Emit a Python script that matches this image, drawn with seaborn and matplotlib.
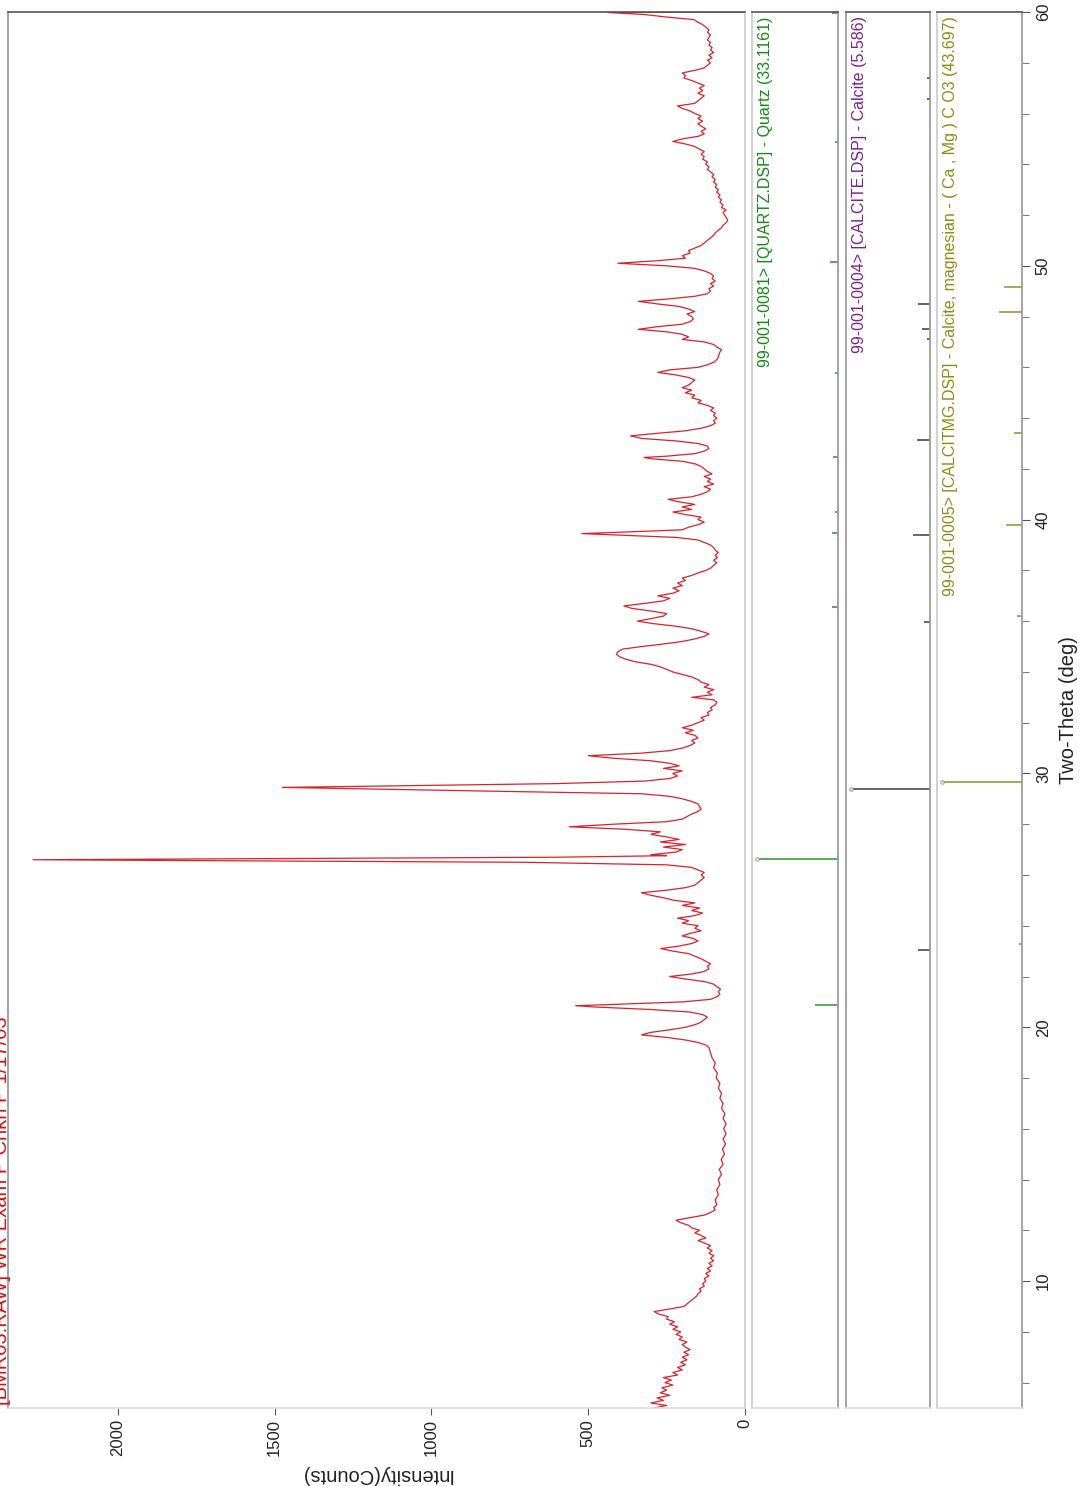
import matplotlib
matplotlib.use("Agg")
import matplotlib.pyplot as plt
from matplotlib.ticker import MultipleLocator
import numpy as np
import pandas as pd
import seaborn as sns

# ---- measured scan (two-theta in degrees, intensity in counts) ----
two_theta = [
    5.0, 5.1, 5.2, 5.3, 5.4, 5.5, 5.6, 5.7, 5.8, 5.9, 6.0, 6.1, 6.2, 6.3, 6.4, 6.5, 6.6, 6.7, 6.8, 6.9,
    7.0, 7.1, 7.2, 7.3, 7.4, 7.5, 7.6, 7.7, 7.8, 7.9, 8.0, 8.1, 8.2, 8.3, 8.4, 8.5, 8.6, 8.7, 8.8, 8.9,
    9.0, 9.1, 9.2, 9.3, 9.4, 9.5, 9.6, 9.7, 9.8, 9.9, 10.0, 10.1, 10.2, 10.3, 10.4, 10.5, 10.6, 10.7, 10.8, 10.9,
    11.0, 11.1, 11.2, 11.3, 11.4, 11.5, 11.6, 11.7, 11.8, 11.9, 12.0, 12.1, 12.2, 12.3, 12.4, 12.5, 12.6, 12.7, 12.8, 12.9,
    13.0, 13.2, 13.4, 13.6, 13.8, 14.0, 14.2, 14.4, 14.6, 14.8, 15.0, 15.2, 15.4, 15.6, 15.8, 16.0, 16.2, 16.4, 16.6, 16.8,
    17.0, 17.2, 17.4, 17.6, 17.8, 18.0, 18.2, 18.4, 18.6, 18.8, 19.0, 19.2, 19.3, 19.4, 19.5, 19.6, 19.7, 19.8, 19.9, 20.0,
    20.1, 20.2, 20.3, 20.4, 20.5, 20.6, 20.7, 20.8, 20.85, 20.9, 21.0, 21.1, 21.2, 21.3, 21.4, 21.5, 21.6, 21.7, 21.8, 21.9,
    22.0, 22.1, 22.2, 22.3, 22.4, 22.5, 22.6, 22.7, 22.8, 22.9, 23.0, 23.1, 23.2, 23.3, 23.4, 23.5, 23.6, 23.7, 23.8, 23.9,
    24.0, 24.1, 24.2, 24.3, 24.4, 24.5, 24.6, 24.7, 24.8, 24.9, 25.0, 25.1, 25.2, 25.3, 25.4, 25.5, 25.6, 25.7, 25.8, 25.9,
    26.0, 26.1, 26.2, 26.3, 26.4, 26.5, 26.6, 26.66, 26.7, 26.76, 26.8, 26.9, 27.0, 27.1, 27.2, 27.3, 27.4, 27.5, 27.6, 27.7,
    27.8, 27.9, 28.0, 28.1, 28.2, 28.3, 28.4, 28.5, 28.6, 28.7, 28.8, 28.9, 29.0, 29.1, 29.2, 29.3, 29.45, 29.55, 29.6, 29.7,
    29.8, 29.9, 30.0, 30.1, 30.2, 30.3, 30.4, 30.5, 30.6, 30.7, 30.8, 30.9, 31.0, 31.1, 31.2, 31.3, 31.4, 31.5, 31.6, 31.7,
    31.8, 31.9, 32.0, 32.1, 32.2, 32.3, 32.4, 32.5, 32.6, 32.7, 32.8, 32.9, 33.0, 33.1, 33.2, 33.3, 33.4, 33.5, 33.6, 33.7,
    33.8, 33.9, 34.0, 34.1, 34.2, 34.3, 34.4, 34.5, 34.6, 34.7, 34.8, 34.9, 35.0, 35.1, 35.2, 35.3, 35.4, 35.5, 35.6, 35.7,
    35.8, 35.9, 36.0, 36.1, 36.2, 36.3, 36.4, 36.5, 36.6, 36.7, 36.8, 36.9, 37.0, 37.1, 37.2, 37.3, 37.4, 37.5, 37.6, 37.7,
    37.8, 37.9, 38.0, 38.1, 38.2, 38.3, 38.4, 38.5, 38.6, 38.7, 38.8, 38.9, 39.0, 39.1, 39.2, 39.3, 39.45, 39.55, 39.6, 39.7,
    39.8, 39.9, 40.0, 40.1, 40.2, 40.3, 40.4, 40.5, 40.6, 40.7, 40.8, 40.9, 41.0, 41.1, 41.2, 41.3, 41.4, 41.5, 41.6, 41.7,
    41.8, 41.9, 42.0, 42.1, 42.2, 42.3, 42.4, 42.45, 42.5, 42.6, 42.7, 42.8, 42.9, 43.0, 43.1, 43.2, 43.3, 43.4, 43.5, 43.6,
    43.7, 43.8, 43.9, 44.0, 44.1, 44.2, 44.3, 44.4, 44.5, 44.6, 44.7, 44.8, 44.9, 45.0, 45.1, 45.2, 45.3, 45.4, 45.5, 45.6,
    45.7, 45.8, 45.9, 46.0, 46.1, 46.2, 46.3, 46.4, 46.5, 46.6, 46.7, 46.8, 46.9, 47.0, 47.1, 47.2, 47.3, 47.4, 47.5, 47.6,
    47.7, 47.8, 47.9, 48.0, 48.1, 48.2, 48.3, 48.4, 48.5, 48.6, 48.7, 48.8, 48.9, 49.0, 49.1, 49.2, 49.3, 49.4, 49.5, 49.6,
    49.7, 49.8, 49.9, 50.0, 50.1, 50.2, 50.3, 50.4, 50.5, 50.6, 50.7, 50.8, 50.9, 51.0, 51.1, 51.2, 51.3, 51.4, 51.5, 51.6,
    51.7, 51.8, 51.9, 52.0, 52.1, 52.2, 52.3, 52.4, 52.5, 52.6, 52.7, 52.8, 52.9, 53.0, 53.1, 53.2, 53.3, 53.4, 53.5, 53.6,
    53.7, 53.8, 53.9, 54.0, 54.1, 54.2, 54.3, 54.4, 54.5, 54.6, 54.7, 54.8, 54.9, 55.0, 55.1, 55.2, 55.3, 55.4, 55.5, 55.6,
    55.7, 55.8, 55.9, 56.0, 56.1, 56.2, 56.3, 56.4, 56.5, 56.6, 56.7, 56.8, 56.9, 57.0, 57.1, 57.2, 57.3, 57.4, 57.5, 57.6,
    57.7, 57.8, 57.9, 58.0, 58.1, 58.2, 58.3, 58.4, 58.5, 58.6, 58.7, 58.8, 58.9, 59.0, 59.1, 59.2, 59.3, 59.4, 59.5, 59.6,
    59.7, 59.8, 59.9, 59.98, 60.0,
]
counts = [
    290, 250, 300, 260, 280, 240, 270, 250, 265, 230, 255, 235, 260, 215, 230, 200, 215, 190, 205, 185,
    200, 180, 195, 175, 190, 200, 185, 210, 200, 220, 205, 230, 215, 240, 225, 250, 245, 275, 290, 240,
    195, 185, 175, 165, 155, 150, 140, 145, 130, 135, 125, 130, 115, 125, 110, 120, 105, 115, 100, 110,
    100, 115, 105, 120, 110, 130, 150, 125, 140, 160, 145, 170, 180, 205, 220, 175, 130, 110, 95, 100,
    90, 95, 85, 90, 80, 85, 75, 82, 70, 76, 65, 72, 62, 70, 60, 68, 60, 70, 64, 75,
    70, 80, 75, 85, 80, 92, 88, 100, 95, 105, 110, 115, 125, 150, 190, 250, 330, 300, 240, 190,
    160, 140, 130, 120, 135, 175, 300, 480, 540, 420, 200, 110, 90, 80, 85, 78, 90, 100, 130, 190,
    240, 170, 130, 115, 120, 110, 125, 140, 160, 180, 230, 268, 210, 170, 150, 165, 200, 175, 140, 160,
    150, 200, 180, 215, 160, 135, 170, 145, 200, 160, 225, 260, 300, 330, 250, 190, 160, 150, 140, 130,
    140, 130, 150, 170, 250, 700, 2270, 1260, 600, 250, 300, 220, 200, 260, 190, 270, 210, 250, 300, 270,
    380, 560, 420, 250, 200, 185, 170, 150, 140, 145, 150, 170, 200, 240, 330, 800, 1475, 900, 600, 320,
    240, 215, 230, 200, 260, 210, 240, 300, 420, 500, 330, 240, 200, 175, 160, 170, 150, 160, 190, 165,
    200, 170, 150, 130, 140, 115, 120, 105, 110, 95, 90, 100, 170, 105, 120, 100, 130, 115, 140, 150,
    170, 200, 230, 250, 270, 300, 350, 380, 400, 410, 405, 390, 330, 260, 200, 160, 130, 115, 140, 170,
    220, 290, 343, 300, 260, 250, 300, 360, 386, 320, 260, 240, 278, 230, 210, 230, 200, 215, 190, 200,
    170, 150, 125, 108, 100, 90, 100, 88, 95, 85, 95, 100, 110, 130, 150, 220, 520, 300, 200, 180,
    150, 130, 150, 140, 190, 230, 170, 200, 160, 210, 245, 170, 140, 120, 110, 130, 100, 120, 110, 130,
    105, 120, 130, 140, 160, 200, 300, 322, 250, 160, 130, 115, 120, 150, 220, 330, 365, 280, 190, 140,
    110, 95, 100, 90, 100, 95, 110, 100, 120, 150, 140, 170, 160, 190, 170, 200, 180, 170, 160, 180,
    220, 278, 240, 150, 120, 100, 90, 85, 83, 80, 75, 90, 100, 130, 200, 180, 200, 250, 340, 280,
    200, 175, 165, 170, 185, 160, 180, 210, 280, 340, 240, 160, 120, 110, 115, 100, 110, 95, 105, 100,
    110, 130, 160, 250, 405, 280, 190, 200, 175, 180, 160, 140, 130, 120, 110, 100, 95, 85, 75, 70,
    60, 55, 60, 65, 70, 60, 75, 70, 80, 75, 85, 80, 90, 85, 95, 90, 100, 95, 105, 100,
    110, 120, 115, 125, 120, 135, 130, 140, 130, 145, 160, 190, 230, 200, 150, 130, 140, 125, 140, 150,
    135, 150, 140, 160, 175, 200, 215, 160, 150, 140, 130, 150, 135, 145, 130, 150, 170, 195, 190, 200,
    160, 130, 120, 110, 120, 105, 115, 100, 110, 105, 115, 110, 120, 115, 110, 120, 115, 125, 135, 150,
    163, 250, 320, 438, 0,
]

# ---- reference stick patterns (position, relative intensity %) ----
quartz_pos = [20.86, 26.64, 36.54, 39.46, 40.29, 42.45, 45.79, 50.14, 54.87, 59.96]
quartz_rel = [28, 100, 7, 7, 4, 6, 4, 10, 4, 7]
calcite_pos = [23.06, 29.40, 35.97, 39.40, 43.15, 47.12, 47.50, 48.51, 56.57, 57.41]
calcite_rel = [15, 100, 8, 22, 16, 4, 10, 15, 4, 4]
calmg_pos = [23.30, 29.66, 36.20, 39.80, 43.40, 48.17, 49.15]
calmg_rel = [4, 100, 6, 20, 10, 29, 22]

quartz_label = "99-001-0081> [QUARTZ.DSP] - Quartz (33.1161)"
calcite_label = "99-001-0004> [CALCITE.DSP] - Calcite (5.586)"
calmg_label = "99-001-0005> [CALCITMG.DSP] - Calcite, magnesian - ( Ca , Mg ) C O3 (43.697)"
title_text = "[BMR03.RAW] WR Exam P Chkn P 1/17/03"

intensity_ticks = [0, 500, 1000, 1500, 2000]
angle_ticks = [10, 20, 30, 40, 50, 60]

sns.set_theme(style="white")
plt.rcParams["font.family"] = ["Liberation Sans", "DejaVu Sans"]

W, H = 1085, 1486
fig = plt.figure(figsize=(W / 100, H / 100), dpi=100)
fig.patch.set_facecolor("white")


def panel(x0, x1, y0=12, y1=1408, **kw):
    return fig.add_axes([x0 / W, 1 - y1 / H, (x1 - x0) / W, (y1 - y0) / H], **kw)


ax_main = panel(8, 745)
ax_q = panel(752, 838, sharey=ax_main)
ax_c = panel(846, 930, sharey=ax_main)
ax_m = panel(937, 1022, sharey=ax_main)

scan = pd.DataFrame({"two_theta": two_theta, "counts": counts})
sns.lineplot(data=scan, x="counts", y="two_theta", sort=False, estimator=None,
             orient="y", ax=ax_main, color="#d8232a", lw=0.9)

ax_main.set_ylim(5, 60)
ax_main.set_xlim(2350, 0)
ax_main.set_xticks(intensity_ticks)
ax_main.set_xticklabels([str(t) for t in intensity_ticks], rotation=90, fontsize=12)
ax_main.tick_params(axis="x", bottom=True, direction="out", length=5, width=0.8,
                    color="#555555", pad=3, labelcolor="#222222")
ax_main.set_xlabel("Intensity(Counts)", rotation=180, fontsize=14.5, labelpad=6,
                   color="#222222")
ax_main.set_ylabel("")

for ax in (ax_main, ax_q, ax_c, ax_m):
    ax.set_facecolor("white")
    ax.grid(False)
    ax.tick_params(axis="y", which="both", left=False, right=False,
                   labelleft=False, labelright=False)
    ax.spines["top"].set_color("#555555")
    ax.spines["top"].set_linewidth(1.2)
    ax.spines["bottom"].set_color("#dddddd")
    ax.spines["left"].set_color("#999999")
    ax.spines["right"].set_color("#999999")
    for s in ax.spines.values():
        s.set_visible(True)
ax_main.spines["right"].set_color("#cccccc")
ax_q.spines["left"].set_color("#cccccc")
ax_m.spines["left"].set_color("#cccccc")

sticks = [
    (ax_q, quartz_pos, quartz_rel, "#2f8f2f", "#138a13", quartz_label),
    (ax_c, calcite_pos, calcite_rel, "#3a3a3a", "#7b1f8c", calcite_label),
    (ax_m, calmg_pos, calmg_rel, "#8f8f2a", "#8c8c10", calmg_label),
]
for ax, pos, rel, col, tcol, label in sticks:
    ax.set_xlim(106, 0)
    ax.set_xticks([])
    ax.hlines(pos, 0, rel, color=col, lw=1.1)
    top = [p for p, r in zip(pos, rel) if r == 100]
    ax.plot([100] * len(top), top, ls="none", marker="o", ms=2.5,
            mfc="white", mec="#888888", mew=0.6)
    ax.text(0.07, 0.997, label, transform=ax.transAxes, rotation=90,
            ha="left", va="top", color=tcol, fontsize=11.5)

# two-theta axis on the right edge of the last panel
ax_m.yaxis.set_major_locator(plt.FixedLocator(angle_ticks))
ax_m.yaxis.set_minor_locator(MultipleLocator(2))
ax_m.tick_params(axis="y", which="major", right=True, labelright=True, direction="out",
                 length=6, width=0.8, color="#555555", pad=4, labelsize=12,
                 labelrotation=90, labelcolor="#222222")
ax_m.tick_params(axis="y", which="minor", right=True, direction="out", length=5,
                 width=0.7, color="#777777")
for lbl in ax_m.get_yticklabels():
    lbl.set_va("center")
ax_m.yaxis.set_label_position("right")
ax_m.set_ylabel("Two-Theta (deg)", fontsize=14.5, rotation=90, labelpad=6,
                color="#222222")

fig.text(11 / W, 1 - 1405 / H, title_text, rotation=90, ha="right", va="bottom",
         color="#e00d0d", fontsize=14.5)

fig.savefig("out.png", dpi=100, facecolor="white")
